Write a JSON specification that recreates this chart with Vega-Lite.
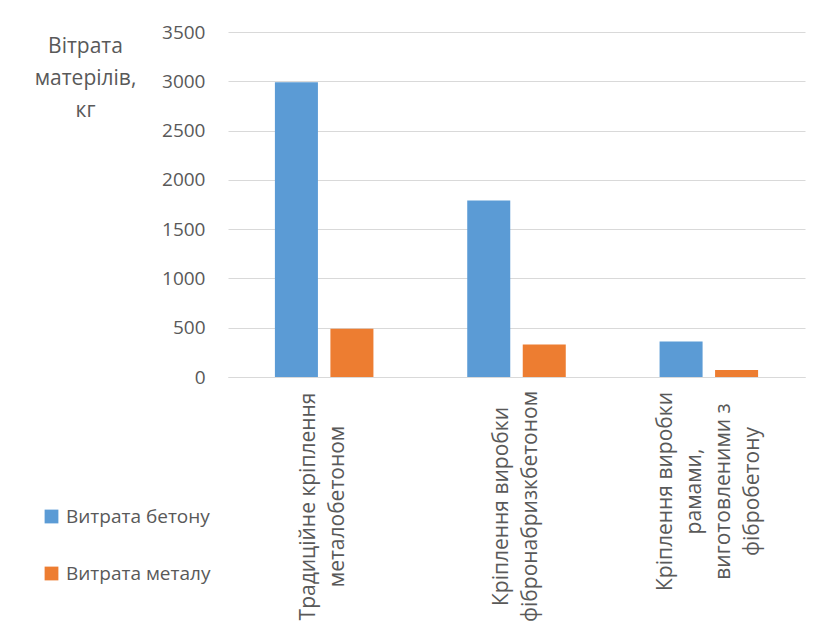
{
  "$schema": "https://vega.github.io/schema/vega-lite/v6.json",
  "width": 577,
  "height": 345,
  "autosize": {"type": "none"},
  "padding": {"left": 228, "top": 32, "right": 14, "bottom": 249},
  "background": "white",
  "data": {
    "values": [
      {"cat": "Традиційне кріплення|металобетоном", "series": "Витрата бетону", "value": 2990},
      {"cat": "Традиційне кріплення|металобетоном", "series": "Витрата металу", "value": 490},
      {"cat": "Кріплення виробки|фібронабризкбетоном", "series": "Витрата бетону", "value": 1790},
      {"cat": "Кріплення виробки|фібронабризкбетоном", "series": "Витрата металу", "value": 330},
      {"cat": "Кріплення виробки|рамами,|виготовленими з|фібробетону", "series": "Витрата бетону", "value": 360},
      {"cat": "Кріплення виробки|рамами,|виготовленими з|фібробетону", "series": "Витрата металу", "value": 70}
    ]
  },
  "mark": {"type": "bar"},
  "encoding": {
    "x": {
      "field": "cat",
      "type": "nominal",
      "sort": null,
      "scale": {"paddingInner": 0, "paddingOuter": 0},
      "axis": {
        "title": null,
        "labelExpr": "split(datum.label, '|')",
        "labelAngle": -90,
        "labelAlign": "center",
        "labelBaseline": "middle",
        "labelPadding": {"condition": {"test": "indexof(datum.value, 'рамами') >= 0", "value": 114}, "value": 129},
        "labelOffset": {"condition": {"test": "indexof(datum.value, 'рамами') >= 0", "value": -43}, "value": -15},
        "labelLineHeight": 29,
        "labelFont": "Open Sans",
        "labelFontSize": 21,
        "labelColor": "#595959",
        "labelLimit": 400,
        "ticks": false,
        "domainColor": "#d9d9d9",
        "domainWidth": 1
      }
    },
    "xOffset": {
      "field": "series",
      "type": "nominal",
      "scale": {"paddingInner": 0.225, "paddingOuter": 0.845}
    },
    "y": {
      "field": "value",
      "type": "quantitative",
      "scale": {"domain": [0, 3500]},
      "axis": {
        "values": [0, 500, 1000, 1500, 2000, 2500, 3000, 3500],
        "format": "d",
        "title": ["Вітрата", "матерілів,", "кг"],
        "titleAngle": 0,
        "titleAlign": "center",
        "titleBaseline": "alphabetic",
        "titleX": -143,
        "titleY": 20,
        "titleFont": "Open Sans",
        "titleFontSize": 21,
        "titleFontWeight": "normal",
        "titleColor": "#595959",
        "titleLineHeight": 32,
        "labelFont": "Open Sans",
        "labelFontSize": 19,
        "labelColor": "#595959",
        "labelPadding": 23,
        "ticks": false,
        "tickSize": 0,
        "domain": false,
        "gridColor": "#d9d9d9",
        "gridWidth": 1
      }
    },
    "color": {
      "field": "series",
      "type": "nominal",
      "scale": {"range": ["#5B9BD5", "#ED7D31"]},
      "legend": {
        "title": null,
        "orient": "none",
        "legendX": -186,
        "legendY": 475,
        "padding": 0,
        "symbolType": "square",
        "symbolSize": 190,
        "symbolStrokeWidth": 0,
        "symbolOpacity": 1,
        "labelFont": "Open Sans",
        "labelFontSize": 19,
        "labelColor": "#595959",
        "labelOffset": 5,
        "rowPadding": 37,
        "labelLimit": 300
      }
    }
  },
  "config": {
    "view": {"stroke": null}
  }
}
